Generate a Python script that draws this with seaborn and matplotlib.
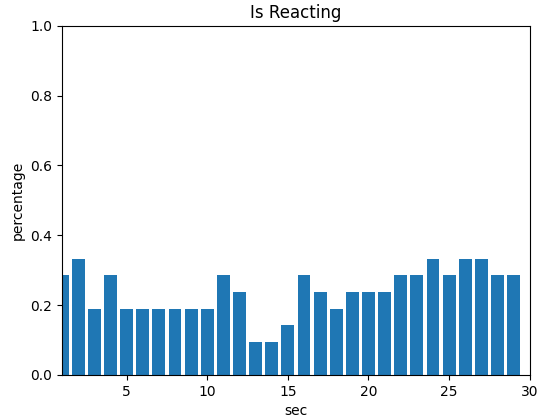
import matplotlib
matplotlib.use("Agg")
import matplotlib.pyplot as plt
import seaborn as sns
import pandas as pd

secs = list(range(1, 30))
reacting = [0.286, 0.333, 0.190, 0.286, 0.190, 0.190, 0.190, 0.190, 0.190, 0.190,
            0.286, 0.238, 0.095, 0.095, 0.143, 0.286, 0.238, 0.190, 0.238, 0.238,
            0.238, 0.286, 0.286, 0.333, 0.286, 0.333, 0.333, 0.286, 0.286]

df = pd.DataFrame({"sec": secs, "percentage": reacting})

fig, ax = plt.subplots(figsize=(5.4, 4.17), dpi=100)
sns.barplot(data=df, x="sec", y="percentage", native_scale=True, width=0.8,
            color="#1f77b4", saturation=1, errorbar=None, ax=ax)
ax.set_xlim(1, 30)
ax.set_ylim(0, 1)
ax.set_title("Is Reacting")
ax.set_xlabel("sec")
ax.set_ylabel("percentage")
fig.subplots_adjust(left=0.115, right=0.981, top=0.938, bottom=0.101)
fig.savefig("out.png")
